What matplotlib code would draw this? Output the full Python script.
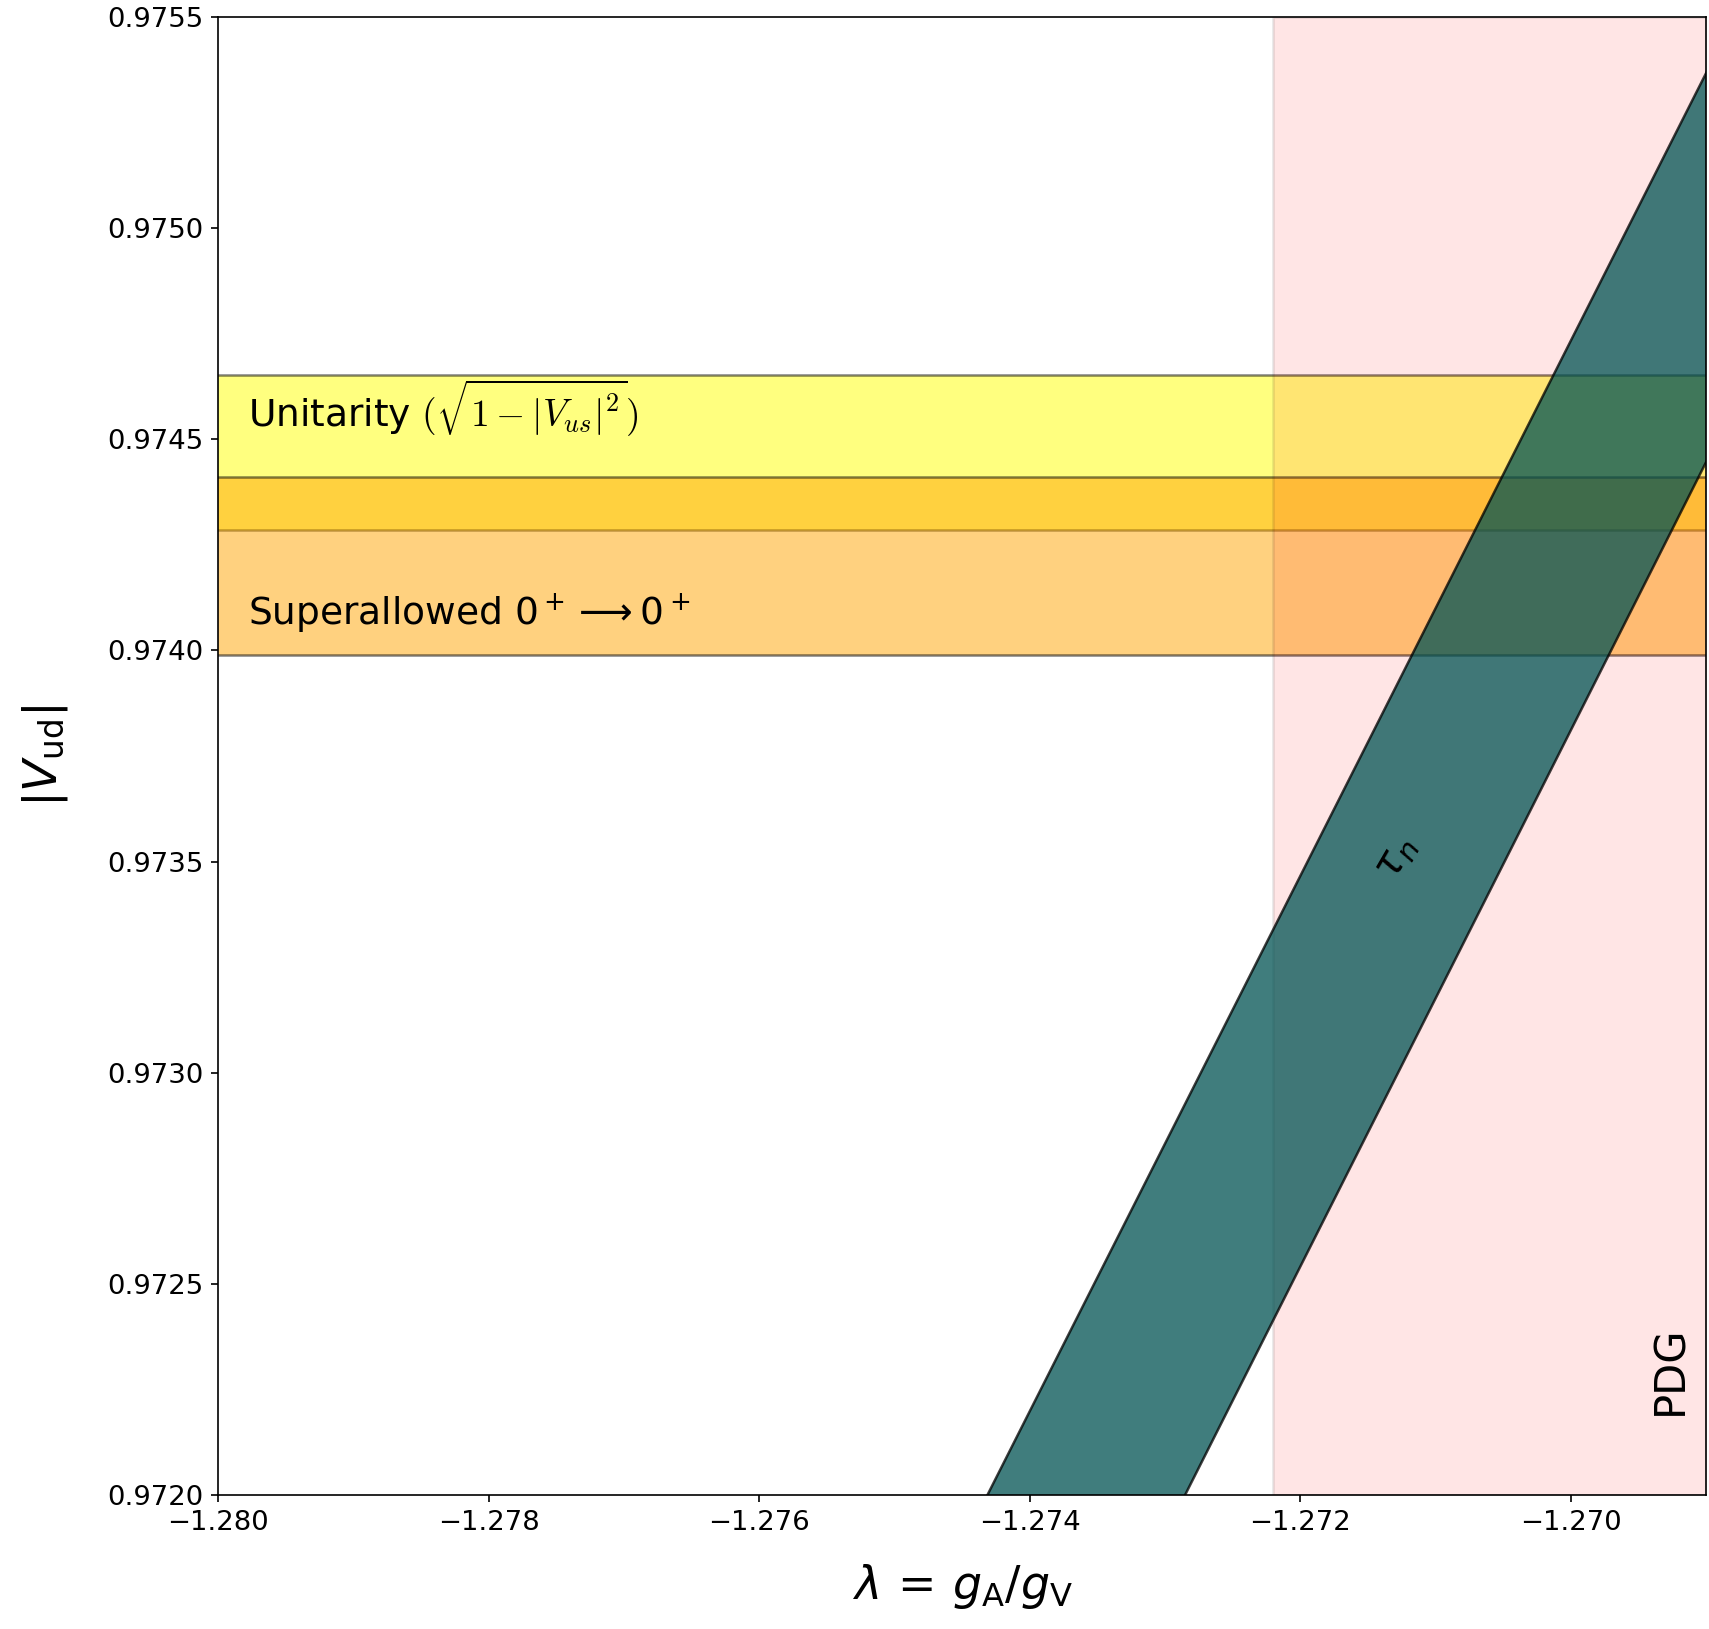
import numpy as np
import matplotlib.pyplot as plt

# bands
unitarity = [0.974286, 0.974652]
superallowed = [0.97399, 0.97441]
pdg_lambda = [-1.2722, -1.2680]

# neutron lifetime band: edges at two lambda values
tau_lam = [-1.2760, -1.2680]
tau_upper = [0.97093, 0.97600]
tau_lower = [0.97000, 0.97508]

xlims = [-1.280, -1.2690]
ylims = [0.9720, 0.9755]
xticks = [-1.280, -1.278, -1.276, -1.274, -1.272, -1.270]
yticks = [0.9720, 0.9725, 0.9730, 0.9735, 0.9740, 0.9745, 0.9750, 0.9755]

fig = plt.figure(figsize=(1709 / 150, 1629 / 150), dpi=150)
ax = fig.add_axes([0.1276, 0.0823, 0.8706, 0.9073])

xx = [-1.29, -1.26]
ax.fill_between(xx, unitarity[0], unitarity[1], color='yellow', alpha=0.5,
                edgecolor='k', linewidth=1.2)
ax.fill_between(xx, superallowed[0], superallowed[1], color='orange', alpha=0.5,
                edgecolor='k', linewidth=1.2)
ax.axvspan(pdg_lambda[0], pdg_lambda[1], facecolor='red', alpha=0.1,
           edgecolor='k', linewidth=1.2)
ax.fill_between(tau_lam, tau_lower, tau_upper, color='#005252', alpha=0.75,
                edgecolor='k', linewidth=1.2)

ax.text(-1.27978, 0.974529, r'Unitarity $(\sqrt{1-|V_{us}|^2})$',
        fontsize=18, va='baseline', math_fontfamily='cm')
ax.text(-1.27978, 0.974060, r'Superallowed $0^+ \longrightarrow 0^+$',
        fontsize=18, va='baseline')
ax.text(-1.2713, 0.97351, r'$\tau_n$', fontsize=20, rotation=60,
        ha='center', va='center')
ax.text(-1.26926, 0.972295, 'PDG', fontsize=20, rotation=90,
        ha='center', va='center')

ax.set_xlim(xlims)
ax.set_ylim(ylims)
ax.set_xticks(xticks)
ax.set_yticks(yticks)
ax.ticklabel_format(useOffset=False)
ax.tick_params(labelsize=13.2)
ax.set_xlabel(r'$\lambda \,=\, g_{\mathrm{A}}/g_{\mathrm{V}}$', fontsize=22, labelpad=12.5)
ax.set_ylabel(r'$|V_{\mathrm{ud}}|$', fontsize=22.5, labelpad=18)

fig.savefig('out.png', dpi=150)
